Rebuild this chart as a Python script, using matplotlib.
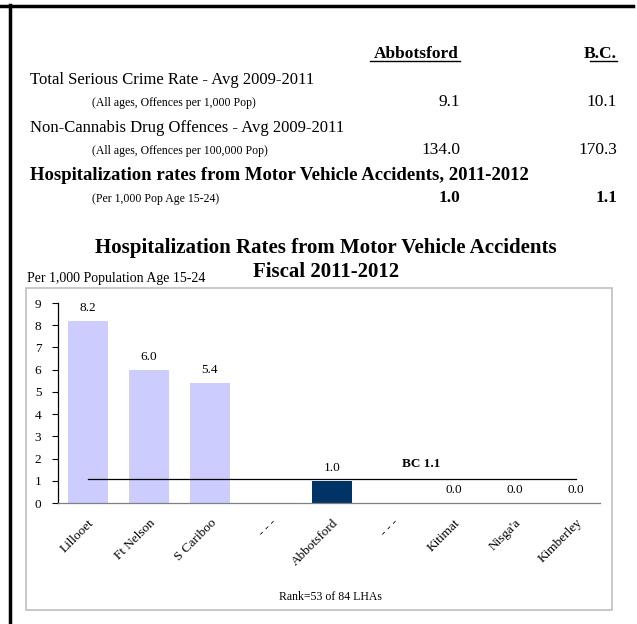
import numpy as np
import matplotlib.pyplot as plt
from matplotlib.lines import Line2D
from matplotlib.patches import Rectangle

plt.rcParams['font.family'] = ['Liberation Serif', 'DejaVu Serif']

# summary table
rowTitles = ['Total Serious Crime Rate - Avg 2009-2011',
             'Non-Cannabis Drug Offences - Avg 2009-2011',
             'Hospitalization rates from Motor Vehicle Accidents, 2011-2012']
rowNotes = ['(All ages, Offences per 1,000 Pop)',
            '(All ages, Offences per 100,000 Pop)',
            '(Per 1,000 Pop Age 15-24)']
abbotsfordVals = ['9.1', '134.0', '1.0']
bcVals = ['10.1', '170.3', '1.1']

# bar chart
regions = ['Lillooet', 'Ft Nelson', 'S Cariboo', '- - -', 'Abbotsford', '- - -',
           'Kitimat', "Nisga'a", 'Kimberley']
rates = [8.2, 6.0, 5.4, np.nan, 1.0, np.nan, 0.0, 0.0, 0.0]
bcRate = 1.1
highlight = 'Abbotsford'

W, H = 637, 624
fig = plt.figure(figsize=(W / 100, H / 100), dpi=100)

def fx(px):
    return px / W

def fy(py):
    return 1 - py / H

# page border (top and left)
fig.add_artist(Line2D([fx(0), fx(633)], [fy(6), fy(6)], color='black', lw=2.5))
fig.add_artist(Line2D([fx(9.5), fx(9.5)], [fy(5), fy(624)], color='black', lw=2.5))

colA, colB = 460, 617

# table header
fig.text(fx(colA - 44), fy(58), 'Abbotsford', ha='center', va='baseline',
         fontsize=12.5, fontweight='bold')
fig.add_artist(Line2D([fx(colA - 90), fx(colA)], [fy(61), fy(61)], color='black', lw=1))
fig.text(fx(colB), fy(58), 'B.C.', ha='right', va='baseline',
         fontsize=12.5, fontweight='bold')
fig.add_artist(Line2D([fx(colB - 27), fx(colB)], [fy(61), fy(61)], color='black', lw=1))

rowY = [84, 132, 180]
for i in range(3):
    bold = 'bold' if i == 2 else 'normal'
    fig.text(fx(30), fy(rowY[i]), rowTitles[i], ha='left', va='baseline',
             fontsize=12 if i < 2 else 13.5, fontweight=bold)
    fig.text(fx(92), fy(rowY[i] + 22), rowNotes[i], ha='left', va='baseline',
             fontsize=8.5)
    fig.text(fx(colA), fy(rowY[i] + 22), abbotsfordVals[i], ha='right', va='baseline',
             fontsize=12.5, fontweight=bold)
    fig.text(fx(colB), fy(rowY[i] + 22), bcVals[i], ha='right', va='baseline',
             fontsize=12.5, fontweight=bold)

# chart titles
fig.text(fx(326), fy(253), 'Hospitalization Rates from Motor Vehicle Accidents',
         ha='center', va='baseline', fontsize=15, fontweight='bold')
fig.text(fx(326), fy(277), 'Fiscal 2011-2012', ha='center', va='baseline',
         fontsize=15, fontweight='bold')
fig.text(fx(27), fy(282), 'Per 1,000 Population Age 15-24', ha='left', va='baseline',
         fontsize=10)

# chart frame
fig.add_artist(Rectangle((fx(26), fy(610)), fx(612) - fx(26), fy(288) - fy(610),
                         fill=False, edgecolor='#BFBFBF', lw=1.2))

ax = fig.add_axes([fx(58), fy(503), fx(600) - fx(58), fy(303) - fy(503)])
x = np.arange(len(regions))
colors = ['#003366' if r == highlight else '#CCCCFF' for r in regions]
vals = np.nan_to_num(rates)
ax.bar(x, vals, width=0.66, color=colors, zorder=2)
for xi, v in zip(x, rates):
    if not np.isnan(v):
        ax.text(xi, v + 0.45, '%.1f' % v, ha='center', va='baseline', fontsize=9.5)

ax.plot([0, 8], [bcRate, bcRate], color='black', lw=0.9, zorder=3)
ax.text(5.15, bcRate + 0.5, 'BC %.1f' % bcRate, ha='left', va='baseline',
        fontsize=9.5, fontweight='bold')

ax.set_xlim((58 - 88) / 61, (600 - 88) / 61)
ax.set_ylim(0, 9)
ax.set_yticks(range(10))
ax.tick_params(axis='y', labelsize=9.5, length=4, width=0.8, pad=8)
ax.set_xticks(x)
ax.set_xticklabels(regions, rotation=45, ha='right', rotation_mode='anchor',
                   fontsize=9.5)
ax.tick_params(axis='x', length=0, pad=10)
for s in ['top', 'right']:
    ax.spines[s].set_visible(False)
ax.spines['left'].set_color('black')
ax.spines['left'].set_linewidth(0.9)
ax.spines['bottom'].set_color('#808080')
ax.spines['bottom'].set_linewidth(0.9)

fig.text(fx(330), fy(600), 'Rank=53 of 84 LHAs', ha='center', va='baseline',
         fontsize=8.5)

fig.savefig('out.png', dpi=100)
